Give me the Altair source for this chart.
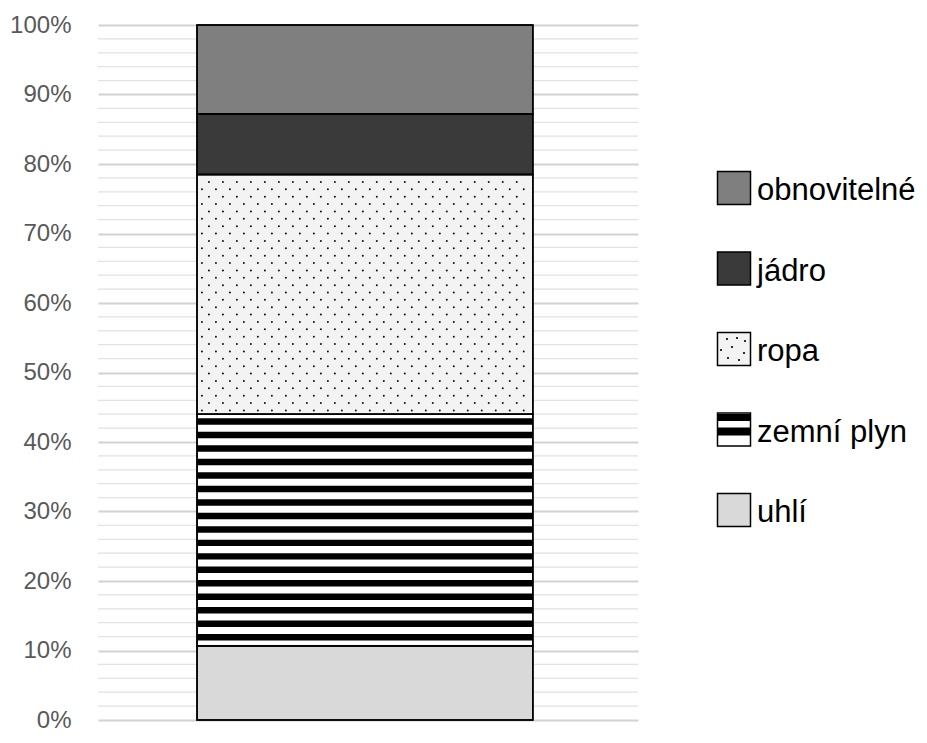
import altair as alt
import pandas as pd

# ---- data ----
categories = ["uhlí", "zemní plyn", "ropa", "jádro", "obnovitelné"]
shares = [10.7, 33.3, 34.5, 8.7, 12.8]          # percent of the 100 % bar
fills = ["#d9d9d9", "#ffffff", "#f3f3f3", "#3a3a3a", "#7f7f7f"]
legend_order = ["obnovitelné", "jádro", "ropa", "zemní plyn", "uhlí"]
major_ticks = list(range(0, 101, 10))
minor_ticks = [t for t in range(0, 101, 2) if t % 10]
bar_name = ["mix"]

W, H = 540, 695
PO = 0.304     # outer band padding -> bar width ~ 336 px
ALIGN = 0.485  # bar sits slightly left of centre

# ---- build tables ----
rows, acc = [], 0.0
for c, v, f in zip(categories, shares, fills):
    rows.append({"cat": bar_name[0], "source": c, "start": acc, "end": acc + v, "fill": f})
    acc += v
seg = pd.DataFrame(rows)
gas = seg[seg.source == "zemní plyn"].iloc[0]
oil = seg[seg.source == "ropa"].iloc[0]

# horizontal stripes texture for "zemní plyn"
stripe_period, stripe_w, stripe_pad = 1.94, 0.93, 0.74
stripes = []
b = gas.start + stripe_pad
while b + stripe_w <= gas.end - 0.3:
    stripes.append({"cat": bar_name[0], "b0": b, "b1": b + stripe_w})
    b += stripe_period
stripes = pd.DataFrame(stripes)

# dotted texture for "ropa"
dots = []
row_step, col_step = 1.06, 1.0 / 24
yv, r = oil.start + 0.55, 0
while yv < oil.end - 0.3:
    u = col_step * (0.35 if r % 2 == 0 else 0.85)
    while u < 0.99:
        dots.append({"u": u, "v": yv})
        u += col_step
    yv += row_step
    r += 1
dots = pd.DataFrame(dots)

xband = alt.Scale(domain=bar_name, paddingInner=0, paddingOuter=PO, align=ALIGN)
xdots = alt.Scale(domain=[-2 * PO * ALIGN, 1 + 2 * PO * (1 - ALIGN)], nice=False, zero=False)
yscale = alt.Scale(domain=[0, 100], nice=False, zero=True)

yaxis = alt.Axis(
    values=major_ticks, labelExpr="datum.value + '%'", title=None,
    grid=True, gridColor="#d2d2d2", gridWidth=2.2, domain=False, ticks=False,
    labelFontSize=24, labelColor="#595959", labelFont="Liberation Sans",
    labelPadding=27,
)

minor = alt.Chart(pd.DataFrame({"t": minor_ticks})).mark_rule(
    color="#e2e2e2", strokeWidth=1.2
).encode(y=alt.Y("t:Q", scale=yscale, axis=None))

bars = alt.Chart(seg).mark_bar(stroke="black", strokeWidth=1.5).encode(
    x=alt.X("cat:N", scale=xband, axis=None),
    y=alt.Y("start:Q", scale=yscale, axis=yaxis),
    y2="end:Q",
    fill=alt.Fill("fill:N", scale=None),
)

stripe_layer = alt.Chart(stripes).mark_bar(color="black").encode(
    x=alt.X("cat:N", scale=xband, axis=None),
    y=alt.Y("b0:Q", scale=yscale, axis=None),
    y2="b1:Q",
)

dot_layer = alt.Chart(dots).mark_circle(size=4, color="#111111", opacity=1).encode(
    x=alt.X("u:Q", scale=xdots, axis=None),
    y=alt.Y("v:Q", scale=yscale, axis=None),
)

outline = alt.Chart(seg).mark_bar(fillOpacity=0, stroke="black", strokeWidth=1.5).encode(
    x=alt.X("cat:N", scale=xband, axis=None),
    y=alt.Y("start:Q", scale=yscale, axis=None),
    y2="end:Q",
)

# ---- manual legend with textured symbols (placed right of the plot) ----
leg = seg.set_index("source").loc[legend_order].reset_index()
lscale = alt.Scale(type="point", domain=legend_order, range=[163, 485], padding=0)
lbase = alt.Chart(leg).encode(y=alt.Y("source:N", scale=lscale, axis=None, sort=legend_order))
SQ_X, TX_X = 636, 659

squares = lbase.mark_square(size=1089, stroke="black", strokeWidth=1.5, opacity=1).encode(
    x=alt.value(SQ_X), fill=alt.Fill("fill:N", scale=None)
)
gas_leg = lbase.transform_filter(alt.datum.source == "zemní plyn")
band1 = gas_leg.mark_rule(strokeWidth=7, color="black", yOffset=-12).encode(
    x=alt.value(SQ_X - 16.5), x2=alt.value(SQ_X + 16.5))
band2 = gas_leg.mark_rule(strokeWidth=8, color="black", yOffset=2).encode(
    x=alt.value(SQ_X - 16.5), x2=alt.value(SQ_X + 16.5))

oil_leg = lbase.transform_filter(alt.datum.source == "ropa")
legend_dot_offsets = [(-7, -10), (3, -11), (11, -8), (-2, -2), (-13, 1), (10, 4), (-6, 9), (5, 11)]
oil_dots = [
    oil_leg.mark_circle(size=5, color="black", opacity=1, xOffset=dx, yOffset=dy).encode(
        x=alt.value(SQ_X))
    for dx, dy in legend_dot_offsets
]

labels = lbase.mark_text(
    align="left", baseline="alphabetic", dy=12, fontSize=31,
    font="Liberation Sans", color="black",
).encode(x=alt.value(TX_X), text="source:N")

chart = alt.layer(
    minor, bars, stripe_layer, dot_layer, outline, squares, band1, band2, *oil_dots, labels
).resolve_scale(x="independent", y="independent").properties(
    width=W, height=H,
    autosize=alt.AutoSizeParams(type="none"),
    padding={"left": 90, "top": 17, "right": 281, "bottom": 14},
).configure_view(strokeWidth=0)

chart.save("out.html", embed_options={"renderer": "svg", "actions": False})
